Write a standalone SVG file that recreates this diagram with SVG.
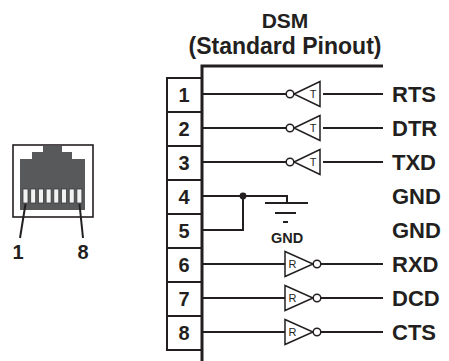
<svg xmlns="http://www.w3.org/2000/svg" width="449" height="361" viewBox="0 0 449 361">
<style>
text{font-family:"Liberation Sans",Arial,sans-serif;fill:#231f20}
.b{font-weight:bold}
.lbl{font-size:22px;font-weight:bold}
.num{font-size:20px;font-weight:bold;text-anchor:middle}
.w{stroke:#231f20;stroke-width:2;fill:none}
.g{stroke:#231f20;stroke-width:1.5;fill:#fff}
.box{stroke:#231f20;stroke-width:2;fill:#fff}
.gl{font-size:11px;text-anchor:middle}
</style>
<defs>
<g id="tx"><path class="g" d="M-3,0 L23,-12.5 L23,12.5 Z"/><circle class="g" cx="-7" cy="0" r="3.8"/><text class="gl" x="16" y="4">T</text></g>
<g id="rx"><path class="g" d="M0,-12.5 L28,0 L0,12.5 Z"/><circle class="g" cx="32" cy="0" r="3.8"/><text class="gl" x="7.5" y="4">R</text></g>
</defs>
<g id="title">
<text class="b" x="285" y="28" font-size="21" text-anchor="middle">DSM</text>
<text class="b" x="285" y="54" font-size="23" text-anchor="middle">(Standard Pinout)</text>
</g>
<g id="jack">
<rect x="13" y="145" width="80" height="72" fill="#fff" stroke="#231f20" stroke-width="1.6"/>
<polygon points="20,159 32,159 32,152 43,152 43,145.8 62,145.8 62,152 72,152 72,159 85,159 85,210 20,210" fill="#58595b"/>
<g fill="#f2f2f2" stroke="#3a3a3a" stroke-width="0.8">
<rect x="23" y="189" width="5" height="14"/><rect x="30.7" y="189" width="5" height="14"/><rect x="38.4" y="189" width="5" height="14"/><rect x="46.1" y="189" width="5" height="14"/><rect x="53.8" y="189" width="5" height="14"/><rect x="61.5" y="189" width="5" height="14"/><rect x="69.2" y="189" width="5" height="14"/><rect x="76.9" y="189" width="5" height="14"/>
</g>
<path class="w" d="M25.5,204 L20,238 M79.5,204 L83,238"/>
<text class="num" x="18" y="259">1</text>
<text class="num" x="83" y="259">8</text>
</g>
<g id="pins">
<rect class="box" x="167" y="78" width="35" height="34"/><text class="num" x="184" y="102">1</text>
<rect class="box" x="167" y="112" width="35" height="34"/><text class="num" x="184" y="136">2</text>
<rect class="box" x="167" y="146" width="35" height="34"/><text class="num" x="184" y="170">3</text>
<rect class="box" x="167" y="180" width="35" height="34"/><text class="num" x="184" y="204">4</text>
<rect class="box" x="167" y="214" width="35" height="34"/><text class="num" x="184" y="238">5</text>
<rect class="box" x="167" y="248" width="35" height="34"/><text class="num" x="184" y="272">6</text>
<rect class="box" x="167" y="282" width="35" height="34"/><text class="num" x="184" y="306">7</text>
<rect class="box" x="167" y="316" width="35" height="34"/><text class="num" x="184" y="340">8</text>
</g>
<g id="connectors">
<path d="M202,361 L202,66 L383,66" fill="none" stroke="#231f20" stroke-width="3"/>
<path class="w" d="M202,94 H286 M323,94 H383 M202,128 H286 M323,128 H383 M202,162 H286 M323,162 H383"/>
<path class="w" d="M202,196 H287 V203 M243,196 V230 H202 M265,203 H308 M275,213 H296 M283,222 H288"/>
<circle cx="243" cy="196" r="3.4" fill="#231f20"/>
<path class="w" d="M202,264 H285 M321,264 H383 M202,298 H285 M321,298 H383 M202,332 H285 M321,332 H383"/>
</g>
<g id="gates">
<use href="#tx" x="297" y="94"/><use href="#tx" x="297" y="128"/><use href="#tx" x="297" y="162"/>
<use href="#rx" x="285" y="264"/><use href="#rx" x="285" y="298"/><use href="#rx" x="285" y="332"/>
<text class="b" x="287" y="243" font-size="14.5" text-anchor="middle">GND</text>
</g>
<g id="labels">
<text class="lbl" x="392" y="102">RTS</text>
<text class="lbl" x="392" y="136">DTR</text>
<text class="lbl" x="392" y="170">TXD</text>
<text class="lbl" x="392" y="204">GND</text>
<text class="lbl" x="392" y="238">GND</text>
<text class="lbl" x="392" y="272">RXD</text>
<text class="lbl" x="392" y="306">DCD</text>
<text class="lbl" x="392" y="340">CTS</text>
</g>
</svg>
